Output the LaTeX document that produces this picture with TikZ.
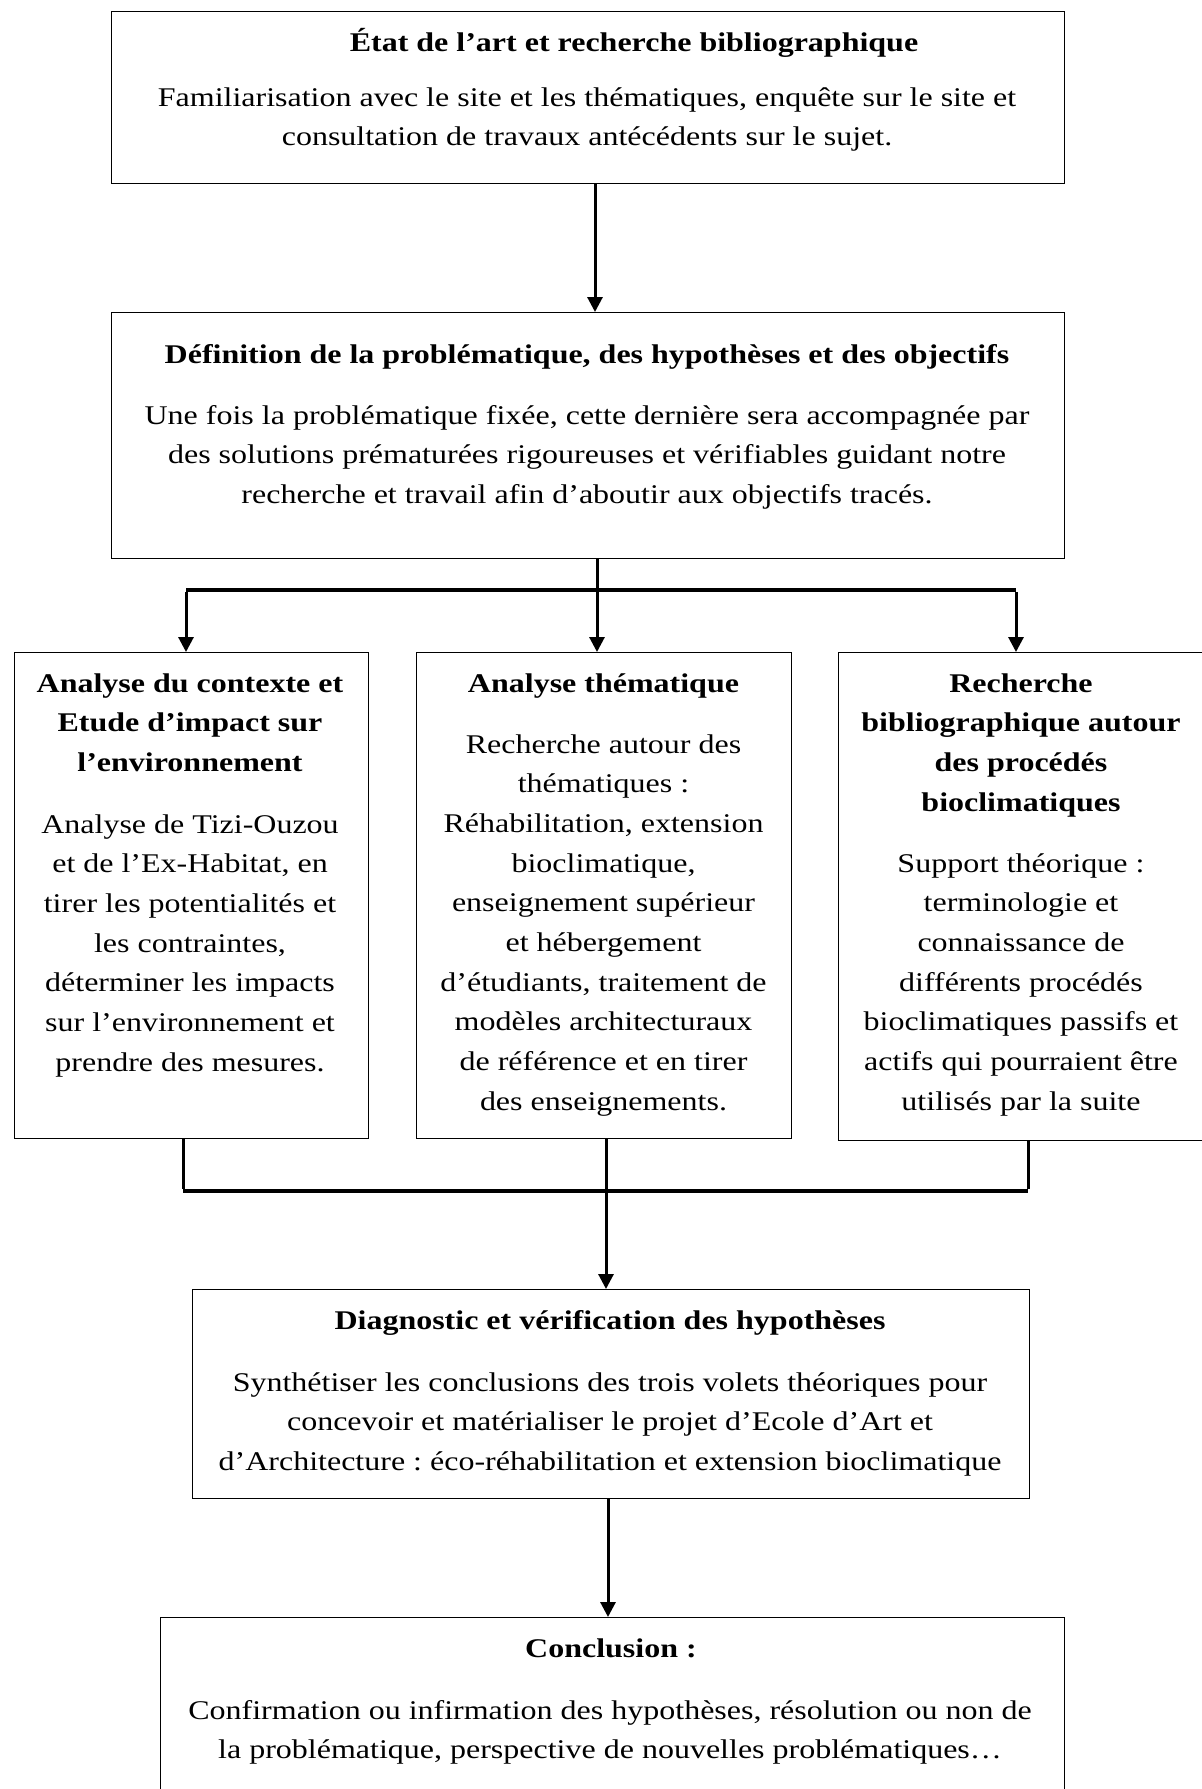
\documentclass[tikz,border=0pt]{standalone}
\usepackage{fontspec}
\setmainfont{Liberation Serif}[FakeStretch=1.185]
\usetikzlibrary{arrows.meta}
\frenchspacing
\tikzset{
  boxnode/.style={draw, line width=1.2pt, inner sep=0pt, anchor=north west},
  txt/.style={align=center, inner sep=0pt, anchor=base, font=\fontsize{27}{39.7}\selectfont},
  ttl/.style={align=center, inner sep=0pt, anchor=base, font=\fontsize{27}{39.7}\selectfont\bfseries},
  conn/.style={line width=3pt},
  arr/.style={line width=3pt, -{Triangle[length=15pt,width=15pt]}},
  bar/.style={line width=4.5pt}
}
\begin{document}
\begin{tikzpicture}[x=1pt,y=-1pt]
\useasboundingbox[fill=white] (0,0) rectangle (1202,1789);
% boxes
\node[boxnode, minimum width=953pt, minimum height=172pt] (b1) at (111,11) {};
\node[boxnode, minimum width=953pt, minimum height=246pt] (b2) at (111,312) {};
\node[boxnode, minimum width=354pt, minimum height=486pt] (bl) at (14,652) {};
\node[boxnode, minimum width=375pt, minimum height=486pt] (bm) at (416,652) {};
\node[boxnode, minimum width=380pt, minimum height=488pt] (br) at (838,652) {};
\node[boxnode, minimum width=837pt, minimum height=209pt] (b4) at (192,1289) {};
\node[boxnode, minimum width=904pt, minimum height=200pt] (b5) at (160,1617) {};
% texts (anchor=base is the baseline of the last line)
\node[ttl] (t1) at (634,51) {État de l’art et recherche bibliographique};
\node[txt] (x1) at (587,145.7) {Familiarisation avec le site et les thématiques, enquête sur le site et\\consultation de travaux antécédents sur le sujet.};
\node[ttl] (t2) at (587,363) {Définition de la problématique, des hypothèses et des objectifs};
\node[txt] (x2) at (587,503.4) {Une fois la problématique fixée, cette dernière sera accompagnée par\\des solutions prématurées rigoureuses et vérifiables guidant notre\\recherche et travail afin d’aboutir aux objectifs tracés.};
\node[ttl] (tl) at (190,771.4) {Analyse du contexte et\\Etude d’impact sur\\l’environnement};
\node[txt] (xl) at (190,1071.2) {Analyse de Tizi-Ouzou\\et de l’Ex-Habitat, en\\tirer les potentialités et\\les contraintes,\\déterminer les impacts\\sur l’environnement et\\prendre des mesures.};
\node[ttl] (tm) at (603.5,692) {Analyse thématique};
\node[txt] (xm) at (603.5,1110.3) {Recherche autour des\\thématiques :\\Réhabilitation, extension\\bioclimatique,\\enseignement supérieur\\et hébergement\\d’étudiants, traitement de\\modèles architecturaux\\de référence et en tirer\\des enseignements.};
\node[ttl] (tr) at (1021,811.1) {Recherche\\bibliographique autour\\des procédés\\bioclimatiques};
\node[txt] (xr) at (1021,1110.2) {Support théorique :\\terminologie et\\connaissance de\\différents procédés\\bioclimatiques passifs et\\actifs qui pourraient être\\utilisés par la suite};
\node[ttl] (t4) at (610,1329) {Diagnostic et vérification des hypothèses};
\node[txt] (x4) at (610,1470.4) {Synthétiser les conclusions des trois volets théoriques pour\\concevoir et matérialiser le projet d’Ecole d’Art et\\d’Architecture : éco-réhabilitation et extension bioclimatique};
\node[ttl] (t5) at (611,1657.5) {Conclusion :};
\node[txt] (x5) at (610,1758.7) {Confirmation ou infirmation des hypothèses, résolution ou non de\\la problématique, perspective de nouvelles problématiques…};
% connectors
\coordinate (s1) at (595,183);
\draw[arr] (s1) -- (s1 |- b2.north);
\coordinate (j1) at (597,590);
\coordinate (jl) at (186,590);
\coordinate (jr) at (1016,590);
\draw[conn] (j1 |- b2.south) -- (j1);
\draw[bar] (jl) -- (jr);
\draw[arr] ([yshift=-2pt]jl) -- (jl |- bl.north);
\draw[arr] (j1) -- (j1 |- bm.north);
\draw[arr] ([yshift=-2pt]jr) -- (jr |- br.north);
\coordinate (kl) at (183,1191);
\coordinate (km) at (606,1191);
\coordinate (kr) at (1028,1191);
\draw[conn] (kl |- bl.south) -- ([yshift=2pt]kl);
\draw[conn] (km |- bm.south) -- (km);
\draw[conn] (kr |- br.south) -- ([yshift=2pt]kr);
\draw[bar] (kl) -- (kr);
\draw[arr] (km) -- (km |- b4.north);
\coordinate (s4) at (608,1498);
\draw[arr] (s4) -- (s4 |- b5.north);
\end{tikzpicture}
\end{document}
